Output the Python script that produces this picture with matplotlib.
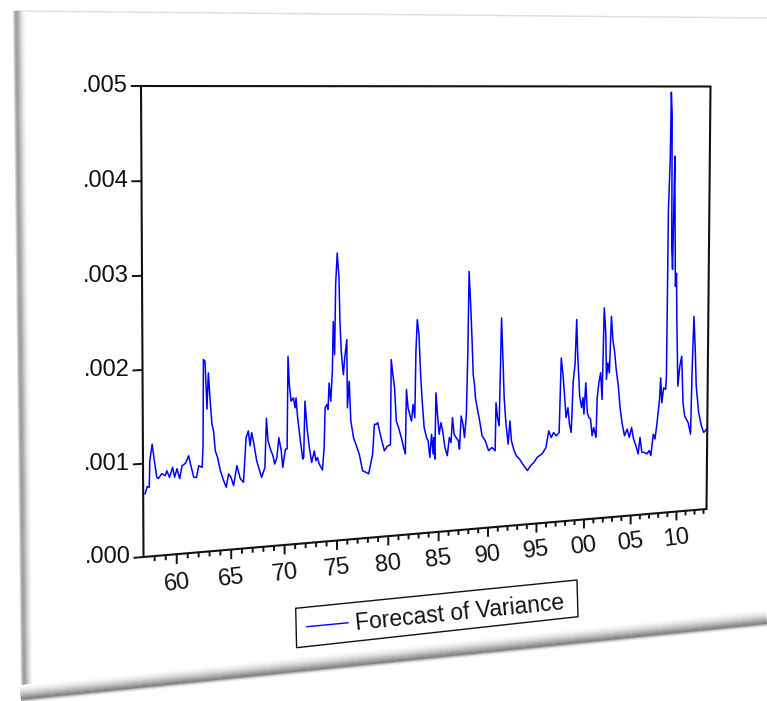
import numpy as np
import matplotlib
matplotlib.use("Agg")
import matplotlib.pyplot as plt
import matplotlib.transforms as mtransforms
from matplotlib.collections import LineCollection
from matplotlib.patches import Polygon

plt.rcParams['font.family'] = ['Liberation Sans', 'DejaVu Sans']

# ---------------------------------------------------------------------------
# Series: GARCH forecast of the conditional variance (decimal years)
# ---------------------------------------------------------------------------
years = [
    1957.17, 1957.37, 1957.55, 1957.61, 1957.83, 1957.98, 1958.23, 1958.37, 1958.68, 1958.99,
    1959.14, 1959.38, 1959.66, 1959.84, 1960.06, 1960.30, 1960.52, 1960.82, 1961.12, 1961.28,
    1961.58, 1961.83, 1962.04, 1962.35, 1962.44, 1962.50, 1962.65, 1962.81, 1962.95, 1963.11,
    1963.26, 1963.41, 1963.56, 1963.77, 1964.02, 1964.32, 1964.56, 1964.78, 1965.00, 1965.24,
    1965.55, 1965.86, 1966.16, 1966.41, 1966.62, 1966.78, 1966.93, 1967.14, 1967.39, 1967.85,
    1968.16, 1968.31, 1968.46, 1968.68, 1968.92, 1969.08, 1969.29, 1969.47, 1969.70, 1969.84,
    1970.09, 1970.25, 1970.35, 1970.47, 1970.63, 1970.85, 1971.01, 1971.10, 1971.25, 1971.51,
    1971.73, 1971.82, 1971.95, 1972.14, 1972.36, 1972.58, 1972.83, 1972.99, 1973.14, 1973.30,
    1973.61, 1973.77, 1973.87, 1974.03, 1974.15, 1974.25, 1974.41, 1974.56, 1974.65, 1974.78,
    1974.88, 1975.03, 1975.20, 1975.29, 1975.42, 1975.62, 1975.75, 1975.95, 1976.01, 1976.18,
    1976.34, 1976.60, 1976.83, 1977.16, 1977.48, 1977.81, 1978.07, 1978.30, 1978.46, 1978.63,
    1978.79, 1978.95, 1979.28, 1979.61, 1979.93, 1980.20, 1980.27, 1980.43, 1980.60, 1980.77,
    1981.00, 1981.27, 1981.50, 1981.67, 1981.77, 1981.93, 1982.10, 1982.27, 1982.43, 1982.60,
    1982.70, 1982.83, 1983.00, 1983.17, 1983.33, 1983.53, 1983.77, 1983.93, 1984.10, 1984.27,
    1984.43, 1984.50, 1984.60, 1984.70, 1984.83, 1985.03, 1985.20, 1985.38, 1985.61, 1985.85,
    1986.05, 1986.22, 1986.36, 1986.53, 1986.73, 1986.97, 1987.07, 1987.24, 1987.42, 1987.58,
    1987.76, 1987.89, 1987.99, 1988.16, 1988.33, 1988.44, 1988.57, 1988.67, 1988.85, 1989.11,
    1989.36, 1989.69, 1990.03, 1990.37, 1990.70, 1990.77, 1990.93, 1991.10, 1991.20, 1991.30,
    1991.47, 1991.60, 1991.80, 1992.03, 1992.20, 1992.37, 1992.60, 1992.87, 1993.20, 1993.53,
    1994.03, 1994.37, 1994.70, 1995.03, 1995.58, 1995.95, 1996.23, 1996.49, 1996.74, 1997.03,
    1997.32, 1997.50, 1997.69, 1997.86, 1998.04, 1998.23, 1998.40, 1998.59, 1998.77, 1998.95,
    1999.10, 1999.22, 1999.46, 1999.67, 1999.82, 1999.92, 2000.10, 2000.28, 2000.45, 2000.63,
    2000.80, 2000.97, 2001.22, 2001.32, 2001.49, 2001.67, 2001.84, 2002.01, 2002.19, 2002.29,
    2002.43, 2002.60, 2002.78, 2002.95, 2003.16, 2003.33, 2003.57, 2003.75, 2003.99, 2004.27,
    2004.55, 2004.79, 2005.03, 2005.25, 2005.51, 2005.76, 2005.95, 2006.16, 2006.41, 2006.71,
    2006.96, 2007.14, 2007.39, 2007.58, 2007.79, 2008.04, 2008.15, 2008.29, 2008.48, 2008.70,
    2008.77, 2008.84, 2008.99, 2009.05, 2009.16, 2009.23, 2009.34, 2009.49, 2009.57, 2009.67,
    2009.78, 2009.86, 2010.03, 2010.23, 2010.43, 2010.62, 2010.81, 2011.20, 2011.48, 2011.59,
    2011.74, 2011.90, 2012.06, 2012.36, 2012.67, 2012.94, 2013.26,
]

variance = [
    0.676e-3, 0.752e-3, 0.743e-3, 1.026e-3, 1.202e-3, 1.059e-3, 0.844e-3, 0.830e-3, 0.879e-3, 0.856e-3,
    0.907e-3, 0.834e-3, 0.939e-3, 0.832e-3, 0.921e-3, 0.813e-3, 0.950e-3, 0.972e-3, 1.052e-3, 0.965e-3,
    0.816e-3, 0.813e-3, 0.937e-3, 0.917e-3, 1.149e-3, 2.079e-3, 2.059e-3, 1.543e-3, 1.932e-3, 1.627e-3,
    1.379e-3, 1.303e-3, 1.086e-3, 1.012e-3, 0.867e-3, 0.757e-3, 0.683e-3, 0.826e-3, 0.787e-3, 0.695e-3,
    0.909e-3, 0.766e-3, 0.723e-3, 1.208e-3, 1.279e-3, 1.115e-3, 1.258e-3, 1.131e-3, 0.948e-3, 0.762e-3,
    0.868e-3, 1.404e-3, 1.156e-3, 1.065e-3, 0.989e-3, 0.898e-3, 0.968e-3, 1.184e-3, 1.037e-3, 0.855e-3,
    1.053e-3, 1.055e-3, 2.068e-3, 1.759e-3, 1.575e-3, 1.610e-3, 1.500e-3, 1.608e-3, 1.389e-3, 1.133e-3,
    0.931e-3, 0.948e-3, 1.567e-3, 1.273e-3, 1.053e-3, 0.887e-3, 1.013e-3, 0.902e-3, 0.937e-3, 0.864e-3,
    0.795e-3, 1.041e-3, 1.480e-3, 1.516e-3, 1.461e-3, 1.752e-3, 1.549e-3, 1.878e-3, 2.427e-3, 2.061e-3,
    2.830e-3, 3.177e-3, 2.901e-3, 2.424e-3, 2.093e-3, 1.835e-3, 2.017e-3, 2.219e-3, 1.465e-3, 1.759e-3,
    1.316e-3, 1.130e-3, 1.055e-3, 0.942e-3, 0.756e-3, 0.734e-3, 0.715e-3, 0.841e-3, 0.932e-3, 1.264e-3,
    1.262e-3, 1.279e-3, 1.110e-3, 0.960e-3, 1.014e-3, 1.022e-3, 1.974e-3, 1.806e-3, 1.657e-3, 1.285e-3,
    1.209e-3, 1.096e-3, 0.982e-3, 0.908e-3, 1.631e-3, 1.425e-3, 1.350e-3, 1.274e-3, 1.459e-3, 1.309e-3,
    2.053e-3, 2.406e-3, 2.237e-3, 1.790e-3, 1.490e-3, 1.191e-3, 1.077e-3, 1.039e-3, 0.851e-3, 1.111e-3,
    0.886e-3, 1.071e-3, 0.828e-3, 1.574e-3, 1.368e-3, 1.105e-3, 1.234e-3, 1.140e-3, 0.951e-3, 0.856e-3,
    1.060e-3, 1.002e-3, 1.283e-3, 1.094e-3, 1.054e-3, 1.015e-3, 0.921e-3, 1.295e-3, 1.200e-3, 1.048e-3,
    1.311e-3, 2.023e-3, 2.925e-3, 2.549e-3, 2.097e-3, 1.757e-3, 1.644e-3, 1.492e-3, 1.378e-3, 1.225e-3,
    1.054e-3, 0.995e-3, 0.880e-3, 0.914e-3, 0.874e-3, 1.421e-3, 1.250e-3, 1.155e-3, 1.778e-3, 2.382e-3,
    1.890e-3, 1.473e-3, 1.169e-3, 0.940e-3, 1.203e-3, 0.975e-3, 0.878e-3, 0.800e-3, 0.760e-3, 0.700e-3,
    0.619e-3, 0.674e-3, 0.708e-3, 0.762e-3, 0.804e-3, 0.870e-3, 1.060e-3, 0.981e-3, 1.036e-3, 0.997e-3,
    1.033e-3, 1.892e-3, 1.701e-3, 1.469e-3, 1.200e-3, 1.313e-3, 1.121e-3, 1.024e-3, 1.617e-3, 1.808e-3,
    2.326e-3, 1.940e-3, 1.440e-3, 1.304e-3, 1.419e-3, 1.227e-3, 1.589e-3, 1.243e-3, 1.183e-3, 1.164e-3,
    0.970e-3, 1.064e-3, 0.947e-3, 1.408e-3, 1.581e-3, 1.696e-3, 1.386e-3, 2.446e-3, 2.155e-3, 1.615e-3,
    1.806e-3, 1.689e-3, 2.346e-3, 2.074e-3, 1.918e-3, 1.724e-3, 1.529e-3, 1.296e-3, 1.100e-3, 0.943e-3,
    1.019e-3, 0.919e-3, 1.034e-3, 0.897e-3, 0.817e-3, 0.718e-3, 0.911e-3, 0.734e-3, 0.732e-3, 0.711e-3,
    0.748e-3, 0.687e-3, 0.939e-3, 0.880e-3, 1.072e-3, 1.344e-3, 1.596e-3, 1.302e-3, 1.477e-3, 1.457e-3,
    1.612e-3, 3.570e-3, 4.156e-3, 4.933e-3, 4.660e-3, 3.135e-3, 2.864e-3, 4.190e-3, 3.450e-3, 2.663e-3,
    2.815e-3, 2.274e-3, 1.487e-3, 1.721e-3, 1.837e-3, 1.282e-3, 1.128e-3, 1.047e-3, 0.908e-3, 1.673e-3,
    2.301e-3, 1.946e-3, 1.474e-3, 1.157e-3, 0.998e-3, 0.917e-3, 0.955e-3,
]

x_start, x_end = 1957.0, 2013.33
x_major_years = [1960, 1965, 1970, 1975, 1980, 1985, 1990, 1995, 2000, 2005, 2010]
x_major_labels = ["60", "65", "70", "75", "80", "85", "90", "95", "00", "05", "10"]
x_minor_years = list(range(1958, 2014))
y_tick_values = [0.000, 0.001, 0.002, 0.003, 0.004, 0.005]
y_tick_labels = [".000", ".001", ".002", ".003", ".004", ".005"]
series_label = "Forecast of Variance"

# ---------------------------------------------------------------------------
# Figure, canvas helpers
# ---------------------------------------------------------------------------
W, H = 767, 701
fig = plt.figure(figsize=(W / 100, H / 100), dpi=100)
fig.patch.set_facecolor("white")
ax = fig.add_axes([0, 0, 1, 1])
ax.set_xlim(x_start, x_end)
ax.set_ylim(y_tick_values[0], y_tick_values[-1])
ax.set_axis_off()
ax.patch.set_visible(False)

# pixel coordinates (x to the right, y downwards) -> figure
px = mtransforms.Affine2D().scale(1 / W, -1 / H).translate(0, 1) + fig.transFigure


class Projective(mtransforms.Transform):
    """Planar homography: maps the unit square onto a tilted sheet."""
    input_dims = 2
    output_dims = 2
    is_separable = False

    def __init__(self, matrix):
        super().__init__()
        self._m = np.asarray(matrix, float)

    def transform_non_affine(self, values):
        v = np.asarray(values, float)
        shape = v.shape
        v = v.reshape(-1, 2)
        p = np.column_stack([v, np.ones(len(v))]) @ self._m.T
        return (p[:, :2] / p[:, 2:3]).reshape(shape)


def solve_homography(src, dst):
    rows, rhs = [], []
    for (u, v), (x, y) in zip(src, dst):
        rows.append([u, v, 1, 0, 0, 0, -u * x, -v * x]); rhs.append(x)
        rows.append([0, 0, 0, u, v, 1, -u * y, -v * y]); rhs.append(y)
    h = np.linalg.solve(np.array(rows), np.array(rhs))
    return np.append(h, 1.0).reshape(3, 3)


# corners of the plotting frame on the tilted sheet (pixels)
frame_px = [(143.5, 557.0), (706.5, 509.0), (710.5, 86.5), (141.0, 86.0)]
frame_fig = [(x / W, 1 - y / H) for x, y in frame_px]
M = solve_homography([(0, 0), (1, 0), (1, 1), (0, 1)], frame_fig)
to_sheet = Projective(M) + fig.transFigure

lim = ax.transScale + ax.transLimits
data_tr = lim + to_sheet
xdata_tr = mtransforms.blended_transform_factory(lim, mtransforms.IdentityTransform()) + to_sheet
ydata_tr = mtransforms.blended_transform_factory(mtransforms.IdentityTransform(), lim) + to_sheet

# ---------------------------------------------------------------------------
# Paper sheet with bevelled shadow edges
# ---------------------------------------------------------------------------
def edge_band(p0, p1, inward, offsets, greys, z=0.5):
    p0, p1 = np.array(p0, float), np.array(p1, float)
    n = np.array(inward, float)
    n /= np.linalg.norm(n)
    for i, g in enumerate(greys):
        d0 = offsets[i]
        d1 = offsets[i + 1] + 0.6 if i + 1 < len(offsets) else offsets[i] + 1.0
        quad = [p0 + d0 * n, p1 + d0 * n, p1 + d1 * n, p0 + d1 * n]
        ax.add_patch(Polygon(quad, closed=True, facecolor=(g, g, g), edgecolor="none",
                             transform=px, zorder=z))


left_offsets = list(range(0, 13))
left_greys = [0.86, 0.72, 0.64, 0.62, 0.65, 0.70, 0.76, 0.82, 0.87, 0.92, 0.95, 0.98, 1.0]
edge_band((13, 11), (21, 699), (1, -0.0116), left_offsets, left_greys)

bottom_offsets = list(range(-3, 15))
bottom_greys = [0.95, 0.86, 0.70, 0.52, 0.53, 0.58, 0.63, 0.68, 0.73, 0.78,
                0.82, 0.86, 0.89, 0.92, 0.95, 0.97, 0.99, 1.0]
edge_band((21, 700), (767, 624), (-0.0987, -0.995), bottom_offsets, bottom_greys, z=0.6)

ax.plot([13, 767], [11, 18], color="#dedede", lw=1.0, transform=px, zorder=0.4)

# ---------------------------------------------------------------------------
# Chart on the sheet
# ---------------------------------------------------------------------------
ax.add_patch(Polygon([(0, 0), (1, 0), (1, 1), (0, 1)], closed=True, fill=False,
                     edgecolor="#111111", lw=1.5, transform=to_sheet, zorder=3,
                     joinstyle="miter"))

ax.plot(years, variance, color="#0000ff", lw=1.1, transform=data_tr, zorder=2)

# x ticks (yearly minor, five-yearly major) hanging below the frame
minor_segs = [[(yr, 0.0), (yr, -0.011)] for yr in x_minor_years if yr not in x_major_years]
major_segs = [[(yr, 0.0), (yr, -0.021)] for yr in x_major_years]
ax.add_collection(LineCollection(minor_segs + major_segs, colors="#111111", linewidths=1.4,
                                 transform=xdata_tr, zorder=3), autolim=False)
for yr, lab in zip(x_major_years, x_major_labels):
    ax.text(yr, -0.063, lab, transform=xdata_tr, ha="center", va="center",
            rotation=7, rotation_mode="anchor", fontsize=17, color="#111111")

# y ticks and labels on the left
y_segs = [[(0.0, val), (-0.016, val)] for val in y_tick_values]
ax.add_collection(LineCollection(y_segs, colors="#111111", linewidths=1.4,
                                 transform=ydata_tr, zorder=3), autolim=False)
ylab_tr = mtransforms.offset_copy(ydata_tr, fig=fig, x=-13, y=0, units="dots")
for val, lab in zip(y_tick_values, y_tick_labels):
    ax.text(0.0, val, lab, transform=ylab_tr, ha="right", va="center",
            fontsize=17, color="#111111")

# legend box, tilted with the sheet
legend_box = [(295.7, 608.3), (577.0, 580.0), (578.0, 616.7), (296.6, 647.7)]
ax.add_patch(Polygon(legend_box, closed=True, facecolor="white", edgecolor="#111111",
                     lw=1.0, transform=px, zorder=3))
ax.plot([307, 348], [626.7, 622.8], color="#0000ff", lw=1.0, transform=px, zorder=4)
ax.text(460, 613.5, series_label, transform=px, ha="center", va="center",
        rotation=5.7, rotation_mode="anchor", fontsize=16.5, color="#111111", zorder=4)

fig.savefig("out.png", dpi=100, facecolor="white")
